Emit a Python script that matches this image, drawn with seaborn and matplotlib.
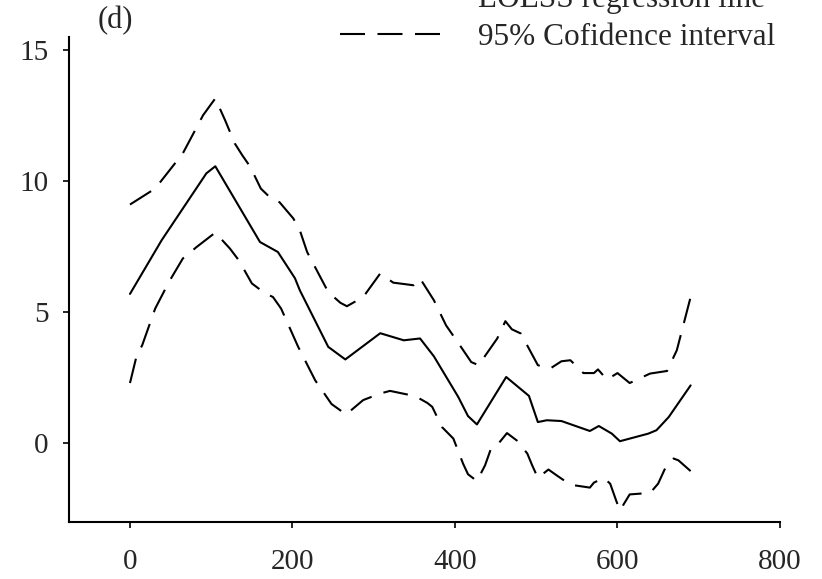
import numpy as np
import pandas as pd
import matplotlib
matplotlib.use("Agg")
import matplotlib.pyplot as plt
import seaborn as sns

# LOESS fit
fit_x = [0, 39, 94, 105, 160, 182, 203, 209, 244, 265, 308, 337, 357, 374,
         404, 416, 427, 463, 491, 502, 513, 531, 566, 577, 593, 603, 638,
         648, 663, 690]
fit_y = [5.7, 7.75, 10.3, 10.57, 7.68, 7.3, 6.3, 5.84, 3.68, 3.2, 4.2, 3.93,
         4.0, 3.32, 1.77, 1.04, 0.72, 2.53, 1.81, 0.81, 0.88, 0.85, 0.47,
         0.66, 0.37, 0.08, 0.37, 0.5, 1.0, 2.21]

# upper 95% bound
upper_x = [0, 31, 65, 90, 105, 117, 129, 138, 148, 161, 176, 184, 201, 209,
           218, 244, 259, 267, 287, 308, 324, 349, 357, 374, 389, 406, 420,
           429, 452, 462, 470, 481, 502, 517, 531, 542, 558, 571, 576, 587,
           600, 615, 640, 661, 673, 690]
upper_y = [9.11, 9.72, 11.06, 12.52, 13.16, 12.33, 11.44, 11.0, 10.55, 9.72,
           9.27, 9.2, 8.58, 8.13, 7.3, 5.77, 5.36, 5.23, 5.58, 6.48, 6.13,
           6.03, 6.29, 5.46, 4.5, 3.74, 3.1, 2.98, 4.0, 4.66, 4.35, 4.19, 2.98,
           2.85, 3.13, 3.17, 2.68, 2.68, 2.82, 2.43, 2.68, 2.3, 2.66, 2.76,
           3.55, 5.58]

# lower 95% bound
lower_x = [0, 8, 15, 31, 48, 65, 82, 105, 123, 134, 150, 165, 176, 186, 207,
           228, 248, 266, 287, 308, 320, 351, 366, 372, 384, 398, 410, 416,
           427, 437, 445, 454, 464, 476, 489, 495, 502, 515, 525, 542, 566,
           571, 583, 591, 599, 603, 615, 628, 640, 650, 659, 669, 675, 690]
lower_y = [2.3, 3.32, 3.74, 5.14, 6.16, 7.05, 7.49, 8.04, 7.43, 6.98, 6.1,
           5.75, 5.58, 5.14, 3.68, 2.4, 1.5, 1.1, 1.65, 1.9, 2.0, 1.8, 1.54,
           1.39, 0.62, 0.18, -0.78, -1.18, -1.44, -0.84, -0.14, 0.01, 0.39,
           0.11, -0.39, -0.84, -1.32, -1.0, -1.22, -1.58, -1.69, -1.5, -1.32,
           -1.54, -2.24, -2.56, -1.95, -1.92, -1.9, -1.54, -0.93, -0.58,
           -0.65, -1.06]

x_ticks = [0, 200, 400, 600, 800]
y_ticks = [0, 5, 10, 15]

sns.set_style("white")
plt.rcParams['font.family'] = ['Liberation Serif', 'DejaVu Serif']

fig = plt.figure(figsize=(8.22, 5.79), dpi=100)
ax = fig.add_axes([0.0843, 0.099, 0.8646, 0.837])

fit = pd.DataFrame({'x': fit_x, 'y': fit_y})
upper = pd.DataFrame({'x': upper_x, 'y': upper_y})
lower = pd.DataFrame({'x': lower_x, 'y': lower_y})

lw = 1.5
dash = (12, 6)
sns.lineplot(data=fit, x='x', y='y', ax=ax, color='black', lw=lw,
             label='LOESS regression line')
sns.lineplot(data=upper, x='x', y='y', ax=ax, color='black', lw=lw,
             label='95% Cofidence interval')
sns.lineplot(data=lower, x='x', y='y', ax=ax, color='black', lw=lw)
ax.lines[1].set_dashes(dash)
ax.lines[2].set_dashes(dash)

ax.set_xlim(-74.7, 800)
ax.set_ylim(-2.99, 15.5)
ax.set_xticks(x_ticks)
ax.set_yticks(y_ticks)
ax.set_xlabel('')
ax.set_ylabel('')
sns.despine(ax=ax)
for side in ['left', 'bottom']:
    ax.spines[side].set_color('black')
    ax.spines[side].set_linewidth(1.5)
ax.tick_params(axis='both', direction='out', length=4, width=1.2,
               color='black', labelsize=21, bottom=True, left=True)
ax.tick_params(axis='x', pad=16)
ax.tick_params(axis='y', pad=11)

ax.get_legend().remove()
handles, labels = ax.get_legend_handles_labels()
fig.legend(handles, labels, loc='lower left',
           bbox_to_anchor=(0.4136, 0.91), frameon=False,
           handlelength=3.2, handletextpad=1.22, borderpad=0,
           borderaxespad=0, labelspacing=0.3, fontsize=22.5)

fig.text(115 / 822, 1 - 21 / 579, '(d)', ha='center', va='center',
         fontsize=22)

fig.savefig('out.png', dpi=100)
